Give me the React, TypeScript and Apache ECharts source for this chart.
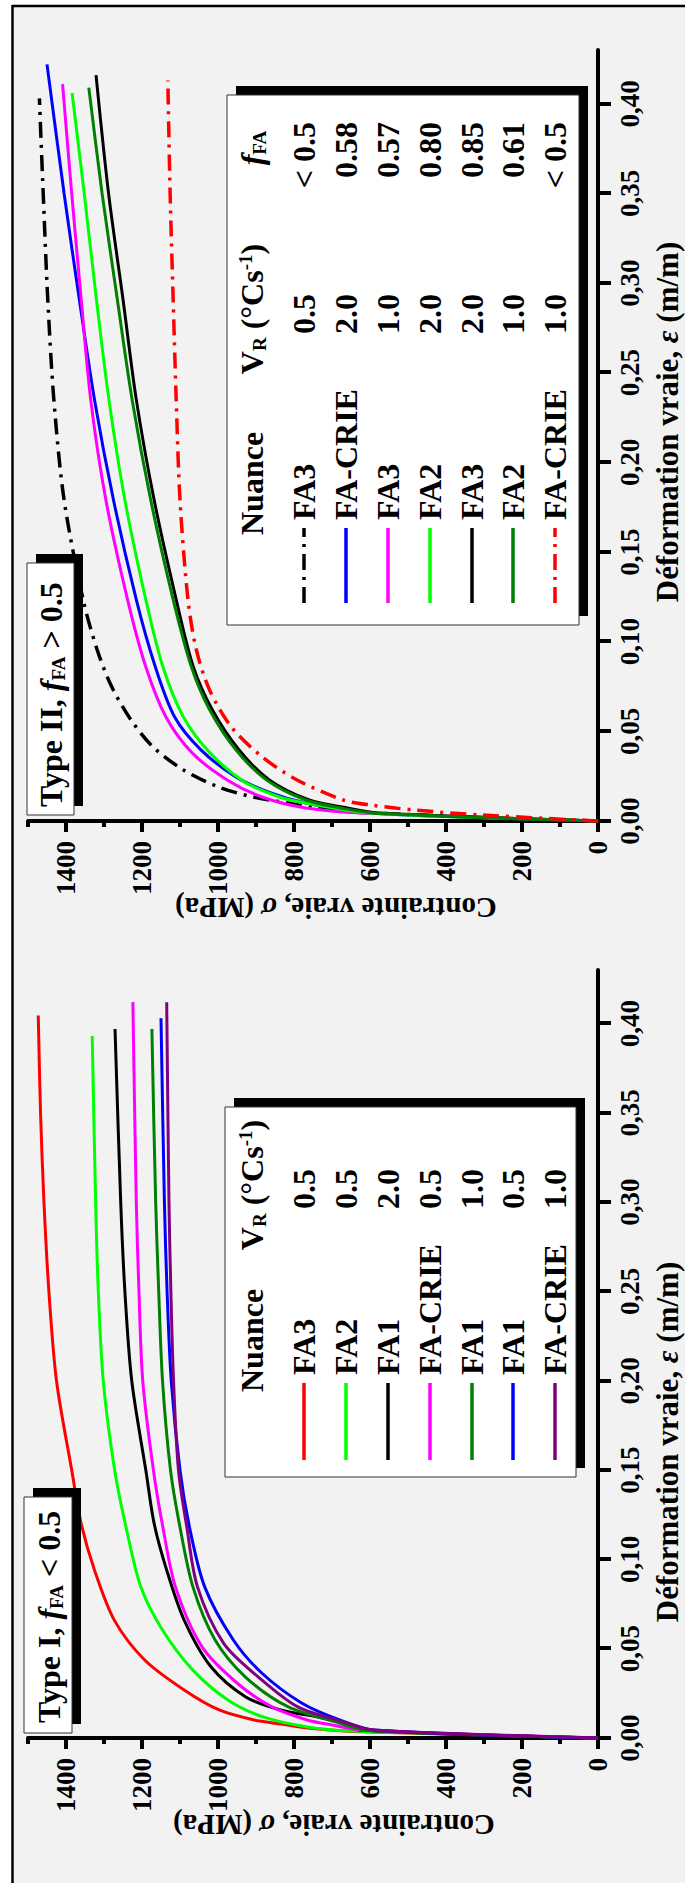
import React, { useEffect, useRef } from "react";
import * as echarts from "echarts";

const FONT = "'Liberation Serif', 'Times New Roman', serif";

// ---- axes ----
const strainTicks = [0, 0.05, 0.1, 0.15, 0.2, 0.25, 0.3, 0.35, 0.4];
const stressMajor = [0, 200, 400, 600, 800, 1000, 1200, 1400];
const stressMinor = [100, 300, 500, 700, 900, 1100, 1300, 1500];
const strainMax = 0.43;
const stressMax = 1500;

// ---- Type I (f_FA < 0.5) ----
const t1Names = ["FA3", "FA2", "FA1", "FA-CRIE", "FA1", "FA1", "FA-CRIE"];
const t1VR = ["0.5", "0.5", "2.0", "0.5", "1.0", "0.5", "1.0"];
const t1Colors = ["#ff0000", "#00ff00", "#000000", "#ff00ff", "#008000", "#0000ff", "#800080"];
const t1Red = [[0,0],[0.0036,640],[0.0056,765],[0.0078,834],[0.0101,905],[0.0157,997],[0.0269,1089],[0.0437,1193],[0.066,1273],[0.094,1325],[0.12,1360],[0.15,1385],[0.2,1425],[0.25,1445],[0.3,1458],[0.35,1467],[0.4045,1473]];
const t1Green = [[0,0],[0.0039,650],[0.0062,765],[0.0118,881],[0.0213,974],[0.038,1066],[0.0605,1146],[0.0846,1203],[0.118,1242],[0.15,1272],[0.2,1302],[0.25,1315],[0.3,1322],[0.393,1331]];
const t1Black = [[0,0],[0.0045,630],[0.0085,670],[0.0115,730],[0.0157,835],[0.023,927],[0.04,1019],[0.066,1089],[0.094,1135],[0.12,1168],[0.15,1190],[0.2,1227],[0.25,1245],[0.3,1256],[0.397,1271]];
const t1Magenta = [[0,0],[0.0045,620],[0.0073,700],[0.0101,765],[0.0174,858],[0.0308,950],[0.051,1042],[0.0846,1112],[0.118,1145],[0.15,1170],[0.2,1198],[0.25,1208],[0.3,1215],[0.412,1224]];
const t1DkGreen = [[0,0],[0.0045,610],[0.009,690],[0.0174,815],[0.034,927],[0.055,1008],[0.0846,1066],[0.118,1100],[0.15,1125],[0.2,1146],[0.25,1156],[0.3,1164],[0.397,1174]];
const t1Blue = [[0,0],[0.0045,590],[0.0101,680],[0.0196,780],[0.0364,885],[0.055,960],[0.0846,1035],[0.118,1075],[0.15,1100],[0.2,1123],[0.25,1134],[0.3,1141],[0.403,1150]];
const t1Purple = [[0,0],[0.0045,590],[0.009,670],[0.0174,790],[0.034,893],[0.053,985],[0.0846,1054],[0.118,1082],[0.15,1104],[0.2,1117],[0.25,1124],[0.3,1129],[0.412,1135]];
const t1Data = [t1Red, t1Green, t1Black, t1Magenta, t1DkGreen, t1Blue, t1Purple];

// ---- Type II (f_FA > 0.5) ----
const t2Names = ["FA3", "FA-CRIE", "FA3", "FA2", "FA3", "FA2", "FA-CRIE"];
const t2VR = ["0.5", "2.0", "1.0", "2.0", "2.0", "1.0", "1.0"];
const t2FFA = ["< 0.5", "0.58", "0.57", "0.80", "0.85", "0.61", "< 0.5"];
const t2Colors = ["#000000", "#0000ff", "#ff00ff", "#00ff00", "#000000", "#008000", "#ff0000"];
const t2Dashed = [true, false, false, false, false, false, true];
const t2BlackDD = [[0,0],[0.0045,600],[0.0073,746],[0.01,816],[0.0134,908],[0.019,999],[0.0285,1091],[0.0413,1171],[0.0564,1229],[0.075,1280],[0.0955,1318],[0.1235,1355],[0.179,1405],[0.235,1432],[0.291,1448],[0.35,1460],[0.403,1470]];
const t2Blue = [[0,0],[0.0045,600],[0.01,769],[0.0156,861],[0.0246,953],[0.0397,1045],[0.058,1114],[0.086,1165],[0.1235,1215],[0.179,1275],[0.235,1325],[0.291,1365],[0.35,1405],[0.422,1450]];
const t2Magenta = [[0,0],[0.0045,620],[0.0073,769],[0.0134,884],[0.0229,976],[0.038,1068],[0.058,1137],[0.086,1190],[0.1235,1238],[0.179,1295],[0.235,1335],[0.291,1360],[0.35,1385],[0.411,1409]];
const t2Green = [[0,0],[0.0045,600],[0.01,769],[0.0134,838],[0.0218,930],[0.038,1021],[0.058,1091],[0.086,1145],[0.1235,1190],[0.179,1245],[0.235,1287],[0.291,1320],[0.35,1352],[0.406,1384]];
const t2Black = [[0,0],[0.0045,580],[0.0073,660],[0.0117,760],[0.0229,865],[0.0397,945],[0.062,1015],[0.086,1065],[0.1235,1110],[0.179,1168],[0.235,1215],[0.291,1250],[0.35,1288],[0.416,1321]];
const t2DkGreen = [[0,0],[0.0045,590],[0.0073,677],[0.0117,769],[0.0229,872],[0.0397,953],[0.062,1022],[0.086,1070],[0.1235,1118],[0.179,1177],[0.235,1226],[0.291,1265],[0.35,1305],[0.409,1340]];
const t2RedDD = [[0,0],[0.0034,309],[0.0061,482],[0.0089,597],[0.0117,670],[0.0229,792],[0.0358,884],[0.0525,965],[0.073,1022],[0.0955,1057],[0.1235,1079],[0.179,1100],[0.235,1110],[0.291,1118],[0.35,1126],[0.413,1132]];
const t2Data = [t2BlackDD, t2Blue, t2Magenta, t2Green, t2Black, t2DkGreen, t2RedDD];

const DASHDOT = [16, 7, 3, 7];

const fmtStrain = (v: number) => v.toFixed(2).replace(".", ",");
const fmtStress = (v: number) => String(Math.round(v));

const rich = {
  b: { fontSize: 32, fontWeight: "bold", fontFamily: FONT, fill: "#000", color: "#000" },
  i: { fontSize: 32, fontWeight: "bold", fontStyle: "italic", fontFamily: FONT, color: "#000" },
  s: { fontSize: 19, fontWeight: "bold", fontFamily: FONT, color: "#000", verticalAlign: "bottom", padding: [14, 0, 0, 0] },
  p: { fontSize: 19, fontWeight: "bold", fontFamily: FONT, color: "#000", verticalAlign: "top", padding: [0, 0, 12, 0] },
};

function text(x: number, y: number, t: string, align = "left", opts: any = {}) {
  return {
    type: "text",
    x,
    y,
    z: 110,
    rotation: opts.rotation || 0,
    style: {
      text: t,
      fontSize: opts.fontSize || 32,
      fontWeight: "bold",
      fontFamily: FONT,
      fill: "#000",
      align,
      verticalAlign: "middle",
      textAlign: align,
      textVerticalAlign: "middle",
      rich: opts.rich || rich,
    },
  };
}

function shadowBox(x: number, y: number, w: number, h: number, dx = 9, dy = 9) {
  return [
    { type: "rect", z: 100, shape: { x: x + dx, y: y + dy, width: w, height: h }, style: { fill: "#000" } },
    { type: "rect", z: 101, shape: { x, y, width: w, height: h }, style: { fill: "#fff", stroke: "#333", lineWidth: 1 } },
  ];
}

const rowsV = [304, 346, 388, 430, 472, 513, 555];
const headerV = 252;

function buildGraphics() {
  const g: any[] = [];
  // background frame
  g.push({ type: "rect", z: -10, shape: { x: 0, y: 12, width: 1877, height: 673 }, style: { fill: "#f2f2f2" } });
  g.push({ type: "line", z: 120, shape: { x1: 0, y1: 12.5, x2: 1878, y2: 12.5 }, style: { stroke: "#000", lineWidth: 2.5 } });
  g.push({ type: "line", z: 120, shape: { x1: 1877, y1: 12, x2: 1877, y2: 685 }, style: { stroke: "#000", lineWidth: 2.5 } });

  // title boxes
  g.push(...shadowBox(150, 24, 236, 48));
  g.push(text(160, 49, "{b|Type I, }{i|f}{s|FA}{b| < 0.5}"));
  g.push(...shadowBox(1068, 27, 252, 47));
  g.push(text(1076, 51, "{b|Type II, }{i|f}{s|FA}{b| > 0.5}"));

  // legend I
  g.push(...shadowBox(406, 225, 370, 351));
  g.push(text(491, headerV, "{b|Nuance}"));
  g.push(text(698, headerV, "{b|V}{s|R}{b| (°Cs}{p|-1}{b|)}", "center"));
  t1Names.forEach((n, i) => {
    g.push({ type: "line", z: 110, shape: { x1: 423, y1: rowsV[i], x2: 500, y2: rowsV[i] }, style: { stroke: t1Colors[i], lineWidth: 3.5 } });
    g.push(text(508, rowsV[i], n));
    g.push(text(694, rowsV[i], t1VR[i], "center"));
  });

  // legend II
  g.push(...shadowBox(1258, 227, 530, 352));
  g.push(text(1348, headerV, "{b|Nuance}"));
  g.push(text(1574, headerV, "{b|V}{s|R}{b| (°Cs}{p|-1}{b|)}", "center"));
  g.push(text(1735, headerV, "{i|f}{s|FA}", "center"));
  t2Names.forEach((n, i) => {
    g.push({
      type: "line", z: 110,
      shape: { x1: 1280, y1: rowsV[i], x2: 1355, y2: rowsV[i] },
      style: { stroke: t2Colors[i], lineWidth: 3.5, lineDash: t2Dashed[i] ? DASHDOT : null },
    });
    g.push(text(1363, rowsV[i], n));
    g.push(text(1569, rowsV[i], t2VR[i], "center"));
    g.push(text(1761, rowsV[i], t2FFA[i], "right"));
  });

  // axis titles
  const xr = {
    b: { fontSize: 31, fontWeight: "bold", fontFamily: FONT, color: "#000" },
    e: { fontSize: 31, fontWeight: "bold", fontStyle: "italic", fontFamily: FONT, color: "#000" },
  };
  const xTitle = "{b|Déformation vraie, }{e|ε}{b| (m/m)}";
  const yTitle = "{b|Contrainte vraie, }{e|σ}{b| (MPa)}";
  g.push(text(441, 667, xTitle, "center", { rich: xr, fontSize: 31 }));
  g.push(text(1461, 667, xTitle, "center", { rich: xr, fontSize: 31 }));
  const yr = {
    b: { fontSize: 29, fontWeight: "bold", fontFamily: FONT, color: "#000" },
    e: { fontSize: 29, fontWeight: "bold", fontStyle: "italic", fontFamily: FONT, color: "#000" },
  };
  g.push(text(58, 334, yTitle, "center", { rich: yr, fontSize: 29, rotation: Math.PI / 2 }));
  g.push(text(975, 336, yTitle, "center", { rich: yr, fontSize: 29, rotation: Math.PI / 2 }));
  return g;
}

function xAxis(gridIndex: number) {
  return {
    type: "value", gridIndex, min: 0, max: strainMax, interval: 0.05,
    axisLine: { show: true, onZero: false, lineStyle: { color: "#000", width: 4 } },
    axisTick: { show: true, length: 13, customValues: strainTicks, lineStyle: { color: "#000", width: 4 } },
    axisLabel: { customValues: strainTicks, formatter: fmtStrain, margin: 18, fontSize: 27, fontWeight: "bold", fontFamily: FONT, color: "#000" },
    splitLine: { show: false },
  };
}

function yAxisMajor(gridIndex: number) {
  return {
    type: "value", gridIndex, position: "left", min: 0, max: stressMax, interval: 200,
    axisLine: { show: true, onZero: false, lineStyle: { color: "#000", width: 4 } },
    axisTick: { show: true, length: 11, customValues: stressMajor, lineStyle: { color: "#000", width: 4 } },
    axisLabel: { customValues: stressMajor, formatter: fmtStress, margin: 20, fontSize: 27, fontWeight: "bold", fontFamily: FONT, color: "#000" },
    splitLine: { show: false },
  };
}

function yAxisMinor(gridIndex: number) {
  return {
    type: "value", gridIndex, position: "left", offset: 0, min: 0, max: stressMax, interval: 100,
    axisLine: { show: false },
    axisTick: { show: true, length: 6, customValues: stressMinor, lineStyle: { color: "#000", width: 4 } },
    axisLabel: { show: false },
    splitLine: { show: false },
  };
}

export default function App() {
  const ref = useRef<HTMLDivElement>(null);
  useEffect(() => {
    if (!ref.current) return;
    const chart = echarts.init(ref.current, null, { renderer: "svg" });
    const series: any[] = [];
    t1Data.forEach((d, i) => {
      series.push({
        type: "line", name: `I-${t1Names[i]}-${t1VR[i]}`, xAxisIndex: 0, yAxisIndex: 0,
        data: d, showSymbol: false, smooth: 0.3,
        lineStyle: { color: t1Colors[i], width: 3 }, z: 2 + i,
      });
    });
    t2Data.forEach((d, i) => {
      series.push({
        type: "line", name: `II-${t2Names[i]}-${t2VR[i]}`, xAxisIndex: 1, yAxisIndex: 2,
        data: d, showSymbol: false, smooth: 0.3,
        lineStyle: { color: t2Colors[i], width: t2Dashed[i] ? 3.5 : 3, type: t2Dashed[i] ? DASHDOT : "solid" },
        z: 2 + i,
      });
    });
    chart.setOption({
      animation: false,
      backgroundColor: "#ffffff",
      grid: [
        { left: 145, top: 28, width: 768, height: 570 },
        { left: 1062, top: 28, width: 771, height: 570 },
      ],
      xAxis: [xAxis(0), xAxis(1)],
      yAxis: [yAxisMajor(0), yAxisMinor(0), yAxisMajor(1), yAxisMinor(1)],
      series,
      graphic: { elements: buildGraphics() },
    });
    return () => chart.dispose();
  }, []);
  return (
    <div style={{ position: "absolute", left: 0, top: 0, width: 685, height: 1883, overflow: "hidden", background: "#fff" }}>
      <div
        ref={ref}
        style={{
          position: "absolute", left: 0, top: 0, width: 1883, height: 685,
          transformOrigin: "0 0", transform: "translateY(1883px) rotate(-90deg)",
        }}
      />
    </div>
  );
}
